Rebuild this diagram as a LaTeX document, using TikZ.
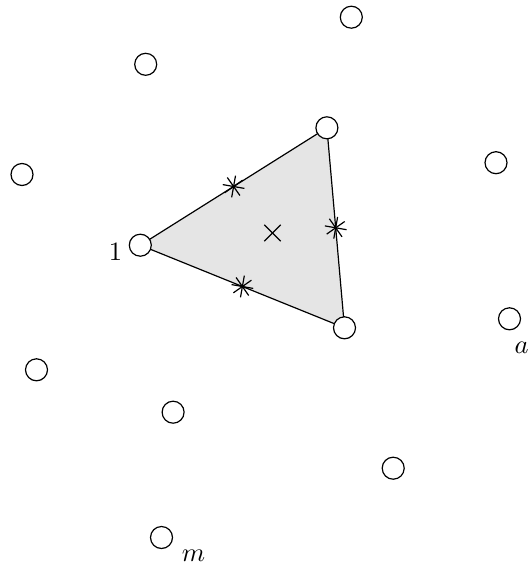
\documentclass[tikz,border=0pt]{standalone}
\usetikzlibrary{calc}
\begin{document}
\begin{tikzpicture}[x=0.3774pt,y=-0.3774pt,
  site/.style={circle,draw,fill=white,line width=0.45pt,minimum size=22*0.3774pt,inner sep=0pt},
  lbl/.style={anchor=base,inner sep=0pt},
  starmark/.style={line width=0.45pt}]
\useasboundingbox (0,0) rectangle (530,563);
% triangle vertices
\coordinate (v1) at (140.3,245.2);
\coordinate (v2) at (326.9,127.8);
\coordinate (v3) at (344.5,327.8);
\filldraw[fill=black!10,line width=0.45pt] (v1) -- (v2) -- (v3) -- cycle;
% midpoint stars
\foreach \p/\q [count=\i] in {v1/v2,v2/v3,v3/v1}{
  \coordinate (s\i) at ($(\p)!0.5!(\q)$);
  \foreach \ang in {10,55,100,145}{
    \draw[starmark] ($(s\i)+(\ang:11)$) -- ($(s\i)+(\ang+180:11)$);
  }
}
% centroid cross
\coordinate (c) at (272.5,233);
\draw[line width=0.45pt] ($(c)+(45:11.5)$) -- ($(c)+(225:11.5)$);
\draw[line width=0.45pt] ($(c)+(135:11.5)$) -- ($(c)+(315:11.5)$);
% sites
\node[site] (n1) at (v1) {};
\node[site] (n2) at (v2) {};
\node[site] (n3) at (v3) {};
\node[site] (p1) at (351.3,17.2) {};
\node[site] (p2) at (145.7,64.3) {};
\node[site] (p3) at (496,162.7) {};
\node[site] (p4) at (22,174.5) {};
\node[site] (p5) at (509.5,318.8) {};
\node[site] (p6) at (36.5,369.8) {};
\node[site] (p7) at (173.1,412.2) {};
\node[site] (p8) at (393.2,468.2) {};
\node[site] (p9) at (161.5,537.5) {};
% labels
\node[lbl] (l1) at (115.5,260) {$1$};
\node[lbl] (la) at (521.5,353) {$a$};
\node[lbl] (lm) at (193.4,561.5) {$m$};
\end{tikzpicture}
\end{document}
